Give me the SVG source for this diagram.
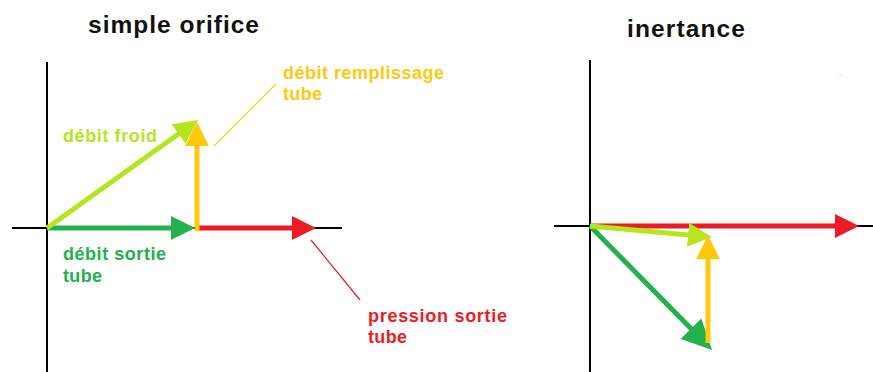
<svg xmlns="http://www.w3.org/2000/svg" width="873" height="372" viewBox="0 0 873 372">
  <style>
    .axis { stroke: #000; stroke-width: 2; fill: none; }
    .vec { stroke-width: 5; fill: none; }
    .title { font-family: "Liberation Sans", Arial, sans-serif; font-weight: bold; font-size: 24.5px; fill: #111; }
    .lbl { font-family: "Liberation Sans", Arial, sans-serif; font-weight: bold; font-size: 18px; }
    .red { stroke: #ed1c24; }
    .dg { stroke: #22b14c; }
    .lg { stroke: #b5e61d; }
    .yl { stroke: #ffc90e; }
    .tred { fill: #ed1c24; }
    .tdg { fill: #22b14c; }
    .tlg { fill: #b5e61d; }
    .tyl { fill: #ffc90e; }
  </style>
  <defs>
    <marker id="hRed" viewBox="0 0 24 24" markerWidth="24" markerHeight="24" markerUnits="userSpaceOnUse" refX="12" refY="12" orient="auto"><path d="M0,0 L24,12 L0,24 Z" fill="#ed1c24"/></marker>
    <marker id="hDg" viewBox="0 0 24 24" markerWidth="24" markerHeight="24" markerUnits="userSpaceOnUse" refX="12" refY="12" orient="auto"><path d="M0,0 L24,12 L0,24 Z" fill="#22b14c"/></marker>
    <marker id="hDgBig" viewBox="0 0 30 29" markerWidth="30" markerHeight="29" markerUnits="userSpaceOnUse" refX="15" refY="14.5" orient="auto"><path d="M0,0 L30,14.5 L0,29 Z" fill="#22b14c"/></marker>
    <marker id="hLg" viewBox="0 0 24 24" markerWidth="24" markerHeight="24" markerUnits="userSpaceOnUse" refX="12" refY="12" orient="auto"><path d="M0,0 L24,12 L0,24 Z" fill="#b5e61d"/></marker>
    <marker id="hYl" viewBox="0 0 24 24" markerWidth="24" markerHeight="24" markerUnits="userSpaceOnUse" refX="12" refY="12" orient="auto"><path d="M0,0 L24,12 L0,24 Z" fill="#ffc90e"/></marker>
  </defs>
  <rect width="873" height="372" fill="#fff"/>

  <!-- Left panel: simple orifice -->
  <g id="panel-simple-orifice">
    <text id="title-left" class="title" x="88" y="33" textLength="171" lengthAdjust="spacing">simple orifice</text>
    <g id="axes-left">
      <line class="axis" x1="47" y1="62" x2="47" y2="372"/>
      <line class="axis" x1="12" y1="228" x2="342" y2="228"/>
    </g>
    <g id="connectors-left">
      <line id="v-debit-sortie-l" class="vec dg" x1="47" y1="228" x2="183" y2="228" marker-end="url(#hDg)"/>
      <line id="v-pression-l" class="vec red" x1="197" y1="228" x2="304" y2="228" marker-end="url(#hRed)"/>
      <line id="v-debit-froid-l" class="vec lg" x1="47" y1="228" x2="188.2" y2="127" marker-end="url(#hLg)"/>
      <line id="v-remplissage-l" class="vec yl" x1="197" y1="231" x2="197" y2="134" marker-end="url(#hYl)"/>
      <line id="callout-yellow" stroke="#ffc90e" stroke-width="1.2" x1="214" y1="146" x2="276" y2="84"/>
      <line id="callout-red" stroke="#ed1c24" stroke-width="1.2" x1="311" y1="240" x2="360" y2="300"/>
    </g>
    <g id="label-remplissage">
      <text class="lbl tyl" x="283" y="79" textLength="161" lengthAdjust="spacing">débit remplissage</text>
      <text class="lbl tyl" x="283" y="100" textLength="39" lengthAdjust="spacing">tube</text>
    </g>
    <g id="label-froid">
      <text class="lbl tlg" x="63" y="142" textLength="94" lengthAdjust="spacing">débit froid</text>
    </g>
    <g id="label-sortie">
      <text class="lbl tdg" x="63" y="260" textLength="103" lengthAdjust="spacing">débit sortie</text>
      <text class="lbl tdg" x="63" y="282" textLength="39" lengthAdjust="spacing">tube</text>
    </g>
    <g id="label-pression">
      <text class="lbl tred" x="368" y="322" textLength="139" lengthAdjust="spacing">pression sortie</text>
      <text class="lbl tred" x="368" y="343" textLength="39" lengthAdjust="spacing">tube</text>
    </g>
  </g>

  <!-- Right panel: inertance -->
  <g id="panel-inertance">
    <text id="title-right" class="title" x="627" y="37" textLength="118" lengthAdjust="spacing">inertance</text>
    <g id="axes-right">
      <line class="axis" x1="590" y1="60" x2="590" y2="372"/>
      <line class="axis" x1="554" y1="226" x2="873" y2="226"/>
    </g>
    <g id="connectors-right">
      <line id="v-debit-sortie-r" class="vec dg" x1="590" y1="226" x2="701.5" y2="339.3" marker-end="url(#hDgBig)"/>
      <line id="v-pression-r" class="vec red" x1="590" y1="226" x2="847" y2="226" marker-end="url(#hRed)"/>
      <line id="v-debit-froid-r" class="vec lg" x1="590" y1="226" x2="700" y2="235.9" marker-end="url(#hLg)"/>
      <line id="v-remplissage-r" class="vec yl" x1="708" y1="343" x2="708" y2="247" marker-end="url(#hYl)"/>
    </g>
    <rect id="stray-dot" x="839.5" y="74.5" width="1.5" height="1.5" fill="#ffc90e" opacity="0.7"/>
  </g>
</svg>
